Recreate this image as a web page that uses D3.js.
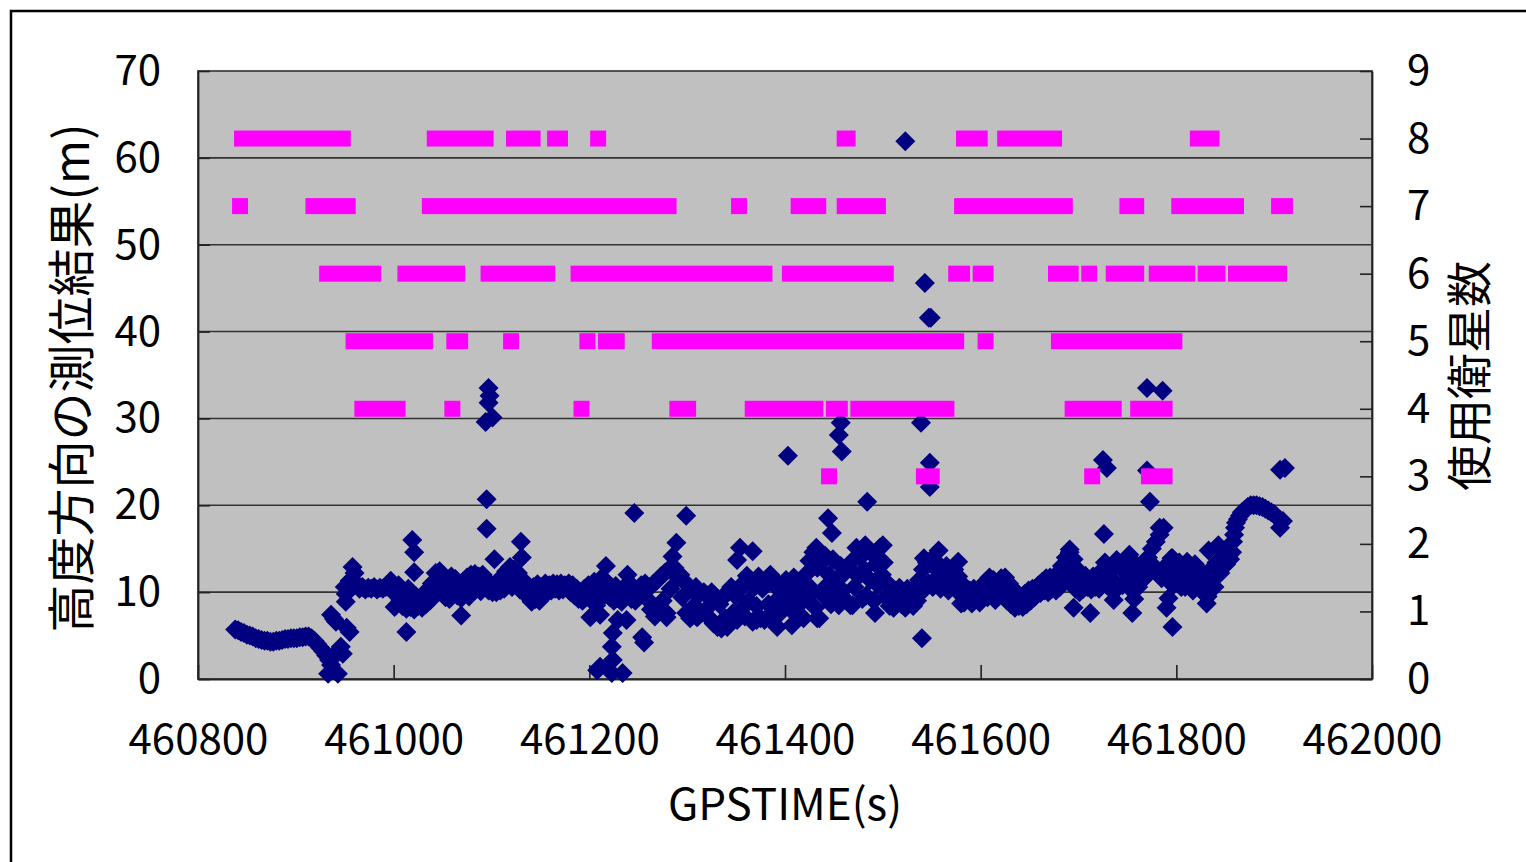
<!DOCTYPE html>
<html><head><meta charset="utf-8">
<script src="https://cdn.jsdelivr.net/npm/d3@7"></script>
<style>
html,body{margin:0;padding:0;background:#fff;overflow:hidden;}
text{font-family:"Noto Sans CJK JP","Noto Sans",sans-serif;fill:#000;}
</style></head>
<body><svg id="chart" width="1526" height="862"></svg>
<script>
// ---------- data ----------
const xTicks = [460800, 461000, 461200, 461400, 461600, 461800, 462000];
const yTicks = [0, 10, 20, 30, 40, 50, 60, 70];
const y2Ticks = [0, 1, 2, 3, 4, 5, 6, 7, 8, 9];
const xTitle = "GPSTIME(s)";
const yTitle = "高度方向の測位結果(m)";
const y2Title = "使用衛星数";

// height result [gps time, height (m)]
const heightStart = [
 [460838,5.7],[460841,5.6],[460844,5.4],[460847,5.3],[460850,5.1],[460853,5.0],[460856,4.9],[460859,4.7],[460862,4.6],[460865,4.5],
 [460868,4.4],[460871,4.4],[460874,4.3],[460877,4.3],[460880,4.4],[460883,4.4],[460886,4.5],[460889,4.6],[460892,4.6],[460895,4.7],
 [460898,4.7],[460901,4.7],[460904,4.8],[460907,4.8],[460910,4.9],[460913,4.9],[460916,4.7],[460919,4.4],[460922,4.0],[460925,3.6],
 [460928,3.2],[460931,2.7],[460934,2.2],[460936,1.6],[460933,0.6],[460943,0.6],[460939,2.6],[460942,3.1],[460946,3.7],[460948,2.9],
 [460936,7.4],[460939,6.9],[460941,6.6],[460955,5.4],[460952,5.9],
 [460950,10.6],[460951,9.8],[460951,8.9],[460955,11.3],[460958,12.9],[460960,12.2],[460962,11.0],[460965,10.4],[460968,10.6],[460971,10.3],
 [460974,10.5],[460977,10.4],[460980,10.6],[460983,10.3],[460986,10.5],[460989,10.4],[460992,10.6],[460995,10.9],[460997,11.3],[461000,10.2],[461001,8.3]
];
const heightSeg2 = [
 [461003,9.6],[461005,10.8],[461007,9.0],[461009,8.4],[461011,9.8],[461013,8.1],[461015,10.4],[461017,8.3],[461019,9.2],[461021,8.0],
 [461023,9.5],[461025,8.4],[461027,8.9],[461029,8.2],[461031,9.7],[461033,8.6],[461035,10.3],[461037,9.0],[461039,11.0],[461041,9.6],
 [461043,12.2],[461045,11.0],[461047,12.4],[461049,10.2],[461051,11.6],[461053,9.4],[461055,11.0],[461057,9.2],[461059,11.8],[461061,10.1],
 [461063,11.5],[461065,9.6],[461067,10.8],[461069,9.3],[461071,11.2],[461073,10.0],[461075,11.7],[461077,9.5],[461079,12.0],[461081,10.4],
 [461083,12.1],[461085,10.8],[461087,11.8],[461089,10.1],[461091,12.0],[461093,11.0],[461095,11.4],[461097,10.2],[461099,10.8],[461101,10.0],
 [461103,10.6],[461105,10.0],[461107,11.2],[461109,10.2],[461111,11.8],[461113,10.4],[461115,12.4],[461117,11.0],[461119,12.9],[461121,10.6],
 [461123,12.6],[461125,11.4],[461127,12.2],[461129,10.3],[461131,11.5],[461133,10.0],[461135,11.0],[461137,9.5],[461139,10.4],[461141,8.9],
 [461143,10.6],[461145,9.2],[461147,10.9],[461149,9.0],[461151,10.6],[461153,9.6],[461155,11.0],[461157,10.0],[461159,10.8],[461161,10.2],
 [461163,11.0],[461165,10.4],[461167,10.9],[461169,10.2],[461171,11.0],[461173,10.3],[461175,10.8],[461177,10.5],[461179,11.0],[461181,10.0],
 [461183,10.8],[461185,9.6],[461187,10.4],[461189,9.2],[461191,10.0],[461193,9.0],[461195,10.4],[461197,9.4],[461199,10.8],[461201,7.1],[461203,9.8],
 [461013,5.4],[461019,16.0],[461021,14.6],[461021,12.3],[461069,7.3],[461095,20.7],[461095,17.3],[461103,13.8],[461130,15.8],[461131,14.0],
 [461097,33.5],[461098,32.6],[461097,31.8],[461094,29.6],[461101,30.1]
];
const heightSeg3 = [
 [461205,11.2],[461207,8.5],[461209,10.4],[461211,7.4],[461213,11.7],[461215,9.6],[461217,13.0],[461219,11.0],[461221,9.4],[461223,10.6],
 [461225,9.0],[461227,10.7],[461229,9.3],[461231,10.2],[461233,8.9],[461235,10.5],[461237,9.6],[461239,12.0],[461241,11.0],[461243,9.2],
 [461245,10.6],[461247,9.0],[461249,10.3],[461251,9.5],[461253,10.8],[461255,9.8],[461257,11.0],[461259,9.2],[461261,10.6],[461263,8.0],
 [461265,10.9],[461267,7.2],[461269,11.3],[461271,8.4],[461273,11.8],[461275,9.0],[461277,12.2],[461279,7.6],[461281,12.6],[461283,10.4],
 [461285,14.1],[461287,12.8],[461289,15.7],[461291,11.6],[461293,12.0],[461295,9.4],[461297,11.2],[461299,7.6],[461301,10.8],[461303,7.0],
 [461305,10.2],[461307,8.4],[461309,10.6],[461311,7.2],[461313,9.8],[461315,7.6],[461317,10.0],[461319,8.0],[461321,9.6],[461323,7.0],
 [461325,10.0],[461327,6.4],[461329,9.2],[461331,6.0],[461333,8.6],[461335,5.8],[461337,9.4],[461339,7.0],[461341,10.0],[461343,6.6],
 [461345,10.6],[461347,7.6],[461349,9.6],[461351,6.8],[461353,10.2],[461355,8.0],[461357,11.0],[461359,7.2],[461361,11.9],[461363,9.0],
 [461365,11.4],[461367,6.6],[461369,10.6],[461371,8.4],[461373,11.8],[461375,7.0],[461377,10.4],[461379,6.8],[461381,11.2],[461383,8.6],
 [461385,12.0],[461387,7.4],[461389,10.8],[461391,9.0],[461393,11.0],[461395,7.6],[461397,10.0],[461399,8.2],[461401,11.4],[461403,9.4],
 [461208,1.0],[461211,1.4],[461223,0.7],[461234,0.7],[461224,2.2],[461223,3.7],[461224,5.3],[461229,6.8],[461238,6.8],[461254,4.8],[461256,4.2],
 [461246,19.1],[461299,18.8],[461354,15.1],[461367,14.7],[461351,13.7],[461279,7.1],[461310,7.1],[461341,6.0],[461371,6.8],[461392,6.0]
];
const heightSeg4 = [
 [461405,10.4],[461407,6.2],[461409,11.7],[461411,7.4],[461413,10.2],[461415,8.6],[461417,11.0],[461419,7.0],[461421,12.0],[461423,9.4],
 [461425,13.6],[461427,10.4],[461429,14.6],[461431,8.2],[461433,12.8],[461435,7.0],[461437,13.4],[461439,9.6],[461441,14.2],[461443,10.8],
 [461445,12.0],[461447,8.6],[461449,13.8],[461451,9.8],[461453,11.4],[461455,8.5],[461457,13.0],[461459,10.2],[461461,12.2],[461463,9.0],
 [461465,12.8],[461467,8.5],[461469,13.6],[461471,10.6],[461473,15.1],[461475,11.8],[461477,14.0],[461479,9.2],[461481,12.6],[461483,9.6],
 [461485,15.0],[461487,11.4],[461489,14.4],[461491,9.0],[461493,13.2],[461495,10.8],[461497,15.1],[461499,12.0],[461501,13.4],[461503,9.4],
 [461505,11.0],[461507,8.4],[461509,10.5],[461511,8.2],[461513,10.2],[461515,9.0],[461517,10.5],[461519,8.6],[461521,9.8],[461523,8.2],
 [461525,10.4],[461527,9.2],[461529,10.0],[461531,8.4],[461533,10.5],[461535,9.0],[461537,11.4],[461539,10.2],[461541,12.6],[461543,10.4],
 [461545,13.4],[461547,11.0],[461549,13.7],[461551,10.6],[461553,12.8],[461555,11.6],[461557,13.2],[461559,10.4],[461561,12.6],[461563,11.2],
 [461565,13.0],[461567,10.2],[461569,12.2],[461571,11.0],[461573,12.6],[461575,10.4],[461577,11.8],[461579,9.8],[461581,10.8],[461583,8.8],
 [461585,10.5],[461587,9.4],[461589,10.2],[461591,8.7],[461593,10.4],[461595,9.2],[461597,10.0],[461599,8.8],[461601,10.6],[461603,9.6],
 [461403,25.7],[461444,18.5],[461448,16.8],[461432,15.1],[461482,15.4],[461500,15.4],[461484,20.4],[461492,7.6],[461540,4.7],[461433,7.0],
 [461469,8.5],[461580,8.7],[461557,14.8],[461542,13.9],[461577,13.5],
 [461457,29.5],[461455,28.1],[461458,26.2],[461539,29.5],[461548,24.9],[461548,22.1],[461523,61.9],[461543,45.6],[461547,41.6],[461549,41.6]
];
const heightSeg5 = [
 [461605,11.2],[461607,9.4],[461609,11.7],[461611,10.0],[461613,11.4],[461615,9.1],[461617,10.8],[461619,9.6],[461621,11.6],[461623,10.2],
 [461625,11.7],[461627,9.0],[461629,11.0],[461631,8.6],[461633,10.4],[461635,8.2],[461637,9.6],[461639,8.4],[461641,9.2],[461643,8.3],
 [461645,9.8],[461647,8.6],[461649,10.2],[461651,9.0],[461653,10.4],[461655,9.4],[461657,10.0],[461659,10.8],[461661,9.9],[461663,11.2],
 [461665,10.2],[461667,11.6],[461669,10.0],[461671,11.7],[461673,10.4],[461675,11.0],[461677,10.2],[461679,12.2],[461681,10.6],[461683,13.0],
 [461685,11.2],[461687,14.0],[461689,12.0],[461691,14.6],[461693,11.0],[461695,13.8],[461697,10.4],[461699,12.6],[461701,10.0],[461703,11.6],
 [461705,10.4],[461707,11.9],[461709,10.6],[461711,11.2],[461713,10.3],[461715,11.8],[461717,10.6],[461719,11.4],[461721,10.4],[461723,12.4],
 [461725,11.0],[461727,13.4],[461729,10.8],[461731,12.2],[461733,10.4],[461735,13.0],[461737,11.2],[461739,13.7],[461741,10.6],[461743,12.8],
 [461745,10.8],[461747,13.2],[461749,11.4],[461751,12.0],[461753,10.4],[461755,13.6],[461757,11.0],[461759,12.6],[461761,10.6],[461763,12.2],
 [461765,11.4],[461767,13.0],[461769,11.8],[461771,14.0],[461773,12.6],[461775,15.0],[461777,13.0],[461779,15.8],[461781,12.4],[461783,16.6],
 [461785,11.6],[461787,17.4],[461789,12.8],[461791,13.2],[461793,11.2],[461795,13.9],[461797,10.8],[461799,12.6],[461801,11.0],[461803,13.4],[461805,10.6],
 [461773,20.4],[461726,16.7],[461783,17.4],[461691,14.9],[461752,14.3],[461796,13.9],[461695,8.2],[461712,7.6],[461736,9.1],[461755,7.6],
 [461757,9.2],[461792,9.3],[461790,8.2],[461796,6.0],[461635,8.3],
 [461770,33.5],[461786,33.2],[461725,25.2],[461729,24.3],[461770,24.0]
];
const heightEnd = [
 [461807,12.4],[461809,10.6],[461811,13.5],[461813,11.0],[461815,12.8],[461817,10.2],[461819,13.2],[461821,11.4],[461823,12.6],[461825,10.8],
 [461827,12.0],[461829,9.8],[461831,8.7],[461832,9.5],[461833,14.8],[461835,11.4],[461837,12.8],[461839,10.6],[461841,13.4],[461843,15.4],
 [461845,12.2],[461847,13.0],[461849,14.6],[461851,13.2],[461853,14.0],[461855,13.8],[461857,14.6],[461858,15.8],[461859,16.6],[461860,17.4],
 [461861,18.0],[461863,18.4],[461865,18.8],[461867,19.2],[461870,19.5],[461873,19.8],[461876,20.0],[461879,20.0],[461882,20.0],[461885,19.9],
 [461888,19.8],[461891,19.6],[461894,19.4],[461897,19.2],[461900,19.0],[461903,18.6],[461906,18.3],[461909,18.2],[461906,17.4],
 [461906,24.1],[461911,24.3]
];

// used satellites: [first epoch, last epoch] per count
const satRuns8 = [[460845,460948],[461042,461094],[461123,461142],[461165,461170],[461209,461209],[461461,461464],[461583,461599],[461625,461675],[461822,461836]];
const satRuns7 = [[460843,460843],[460918,460953],[461037,461281],[461353,461353],[461414,461434],[461461,461495],[461581,461686],[461750,461759],[461803,461861],[461905,461911]];
const satRuns6 = [[460932,460979],[461012,461065],[461097,461157],[461189,461379],[461405,461503],[461575,461581],[461600,461605],[461677,461692],[461711,461711],[461736,461759],[461780,461811],[461830,461842],[461861,461905]];
const satRuns5 = [[460959,461032],[461062,461068],[461120,461120],[461198,461198],[461217,461228],[461272,461575],[461605,461605],[461680,461798]];
const satRuns4 = [[460968,461004],[461060,461060],[461192,461192],[461290,461301],[461367,461431],[461450,461456],[461475,461565],[461694,461736],[461761,461788]];
const satRuns3 = [[461445,461445],[461542,461550],[461714,461714],[461772,461788]];

// ---------- drawing ----------
const heightPoints = [].concat(heightStart, heightSeg2, heightSeg3, heightSeg4, heightSeg5, heightEnd);
const satRuns = [].concat(
  satRuns8.map(r => [r[0], r[1], 8]), satRuns7.map(r => [r[0], r[1], 7]),
  satRuns6.map(r => [r[0], r[1], 6]), satRuns5.map(r => [r[0], r[1], 5]),
  satRuns4.map(r => [r[0], r[1], 4]), satRuns3.map(r => [r[0], r[1], 3]));

const P = {left: 198, top: 71, right: 1372, bottom: 679};
const svg = d3.select("#chart");

// outer chart border
svg.append("rect").attr("x", 11).attr("y", 11).attr("width", 1540).attr("height", 880)
  .attr("fill", "#fff").attr("stroke", "#000").attr("stroke-width", 2.5);

const x = d3.scaleLinear().domain([460800, 462000]).range([P.left, P.right]);
const y = d3.scaleLinear().domain([0, 70]).range([P.bottom, P.top]);
const y2 = d3.scaleLinear().domain([0, 9]).range([P.bottom, P.top]);

// plot area
svg.append("rect").attr("x", P.left).attr("y", P.top)
  .attr("width", P.right - P.left).attr("height", P.bottom - P.top)
  .attr("fill", "#C0C0C0");

// gridlines
svg.append("g").selectAll("line").data(yTicks.filter(d => d > 0 && d < 70)).join("line")
  .attr("x1", P.left).attr("x2", P.right).attr("y1", d => y(d)).attr("y2", d => y(d))
  .attr("stroke", "#333").attr("stroke-width", 1.6);

// plot border
svg.append("rect").attr("x", P.left).attr("y", P.top)
  .attr("width", P.right - P.left).attr("height", P.bottom - P.top)
  .attr("fill", "none").attr("stroke", "#444").attr("stroke-width", 1.8);

// axes
const fs = 42;
const axL = svg.append("g").attr("transform", `translate(${P.left},0)`)
  .call(d3.axisLeft(y).tickValues(yTicks).tickSizeInner(-12).tickSizeOuter(0).tickPadding(37));
const axR = svg.append("g").attr("transform", `translate(${P.right},0)`)
  .call(d3.axisRight(y2).tickValues(y2Ticks).tickSizeInner(-12).tickSizeOuter(0).tickPadding(35));
const axB = svg.append("g").attr("transform", `translate(0,${P.bottom})`)
  .call(d3.axisBottom(x).tickValues(xTicks).tickFormat(d3.format("d")).tickSizeInner(-14).tickSizeOuter(0).tickPadding(45));
[axL, axR, axB].forEach(a => {
  a.select(".domain").attr("stroke", "#222").attr("stroke-width", 1.8);
  a.selectAll(".tick line").attr("stroke", "#222").attr("stroke-width", 1.6);
  a.selectAll(".tick text").attr("font-size", fs).attr("font-family", '"Noto Sans CJK JP", sans-serif').attr("fill", "#000");
});

// height series (diamonds)
const dm = 10;
svg.append("g").selectAll("path").data(heightPoints).join("path")
  .attr("d", `M0,${-dm}L${dm},0L0,${dm}L${-dm},0Z`)
  .attr("transform", d => `translate(${x(d[0])},${y(d[1])})`)
  .attr("fill", "#000080");

// satellite count series (square markers, drawn as runs of consecutive epochs)
const sq = 8;
svg.append("g").selectAll("rect").data(satRuns).join("rect")
  .attr("x", d => x(d[0]) - sq).attr("width", d => x(d[1]) - x(d[0]) + 2 * sq)
  .attr("y", d => y2(d[2]) - sq).attr("height", 2 * sq)
  .attr("fill", "#FF00FF");

// titles
svg.append("text").attr("x", (P.left + P.right) / 2).attr("y", 820)
  .attr("text-anchor", "middle").attr("font-size", 44).text(xTitle);
svg.append("text").attr("transform", "translate(89,378) rotate(-90)")
  .attr("text-anchor", "middle").attr("font-size", 48).text(yTitle);
svg.append("text").attr("transform", "translate(1486,376) rotate(-90)")
  .attr("text-anchor", "middle").attr("font-size", 46).text(y2Title);
</script></body></html>
